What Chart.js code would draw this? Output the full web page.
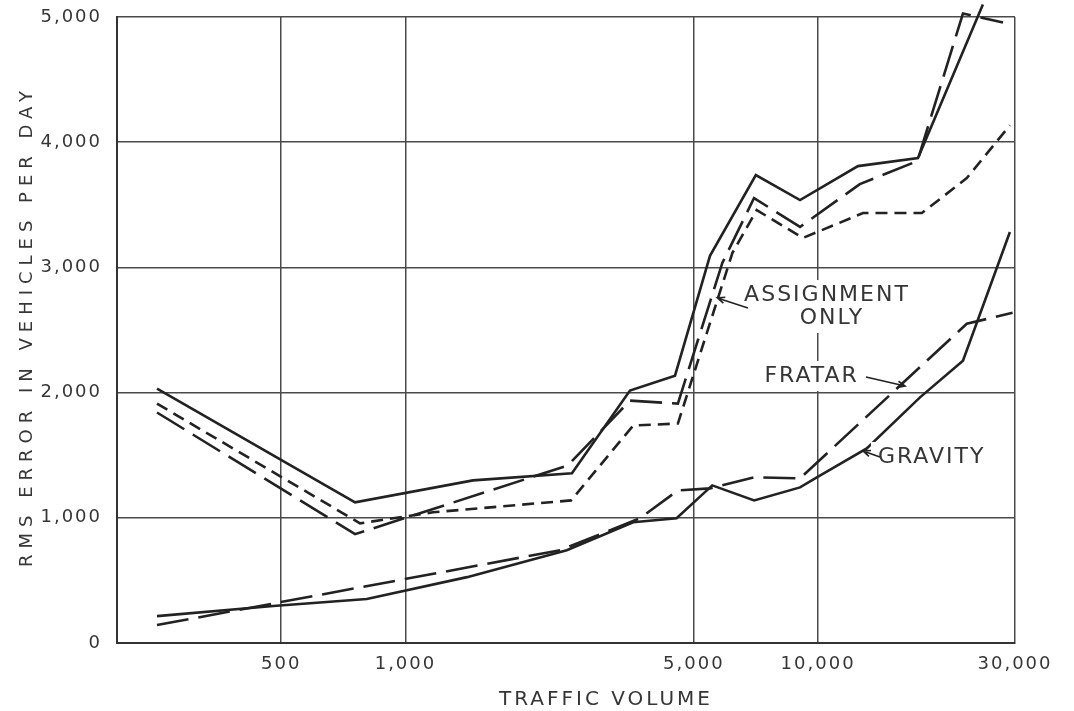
<!DOCTYPE html>
<html>
<head>
<meta charset="utf-8">
<title>RMS error vs traffic volume</title>
<script src="https://cdn.jsdelivr.net/npm/chart.js@4.4.1/dist/chart.umd.min.js"></script>
<style>
  html, body { margin: 0; padding: 0; background: #fff; }
  #wrap { width: 1074px; height: 711px; position: relative; }
</style>
</head>
<body>
<div id="wrap"><canvas id="rmsChart"></canvas></div>
<script>
// ---------- tick labels
const volumeTicks = [500, 1000, 5000, 10000, 30000];
const errorTicks = [0, 1000, 2000, 3000, 4000, 5000];

// ---------- upper group
const upperSolidVol = [250, 755, 1458, 2532, 3500, 4500, 5470, 7065, 9040, 12490, 17460, 25080];
const upperSolidErr = [2032, 1124, 1299, 1355, 2016, 2135, 3092, 3737, 3538, 3809, 3873, 5100];

const upperDashVol = [250, 755, 2474, 3500, 4573, 5860, 6994, 9040, 12620, 17400, 22440, 28060];
const upperDashErr = [1841, 869, 1418, 1936, 1912, 3036, 3554, 3323, 3665, 3849, 5028, 4956];

const assignmentVol = [250, 776, 1166, 2520, 3563, 4573, 6200, 7100, 9180, 12850, 17840, 22920, 29160];
const assignmentErr = [1912, 956, 1044, 1139, 1737, 1753, 3116, 3458, 3235, 3434, 3434, 3713, 4135];

// ---------- lower group
const fratarVol = [250, 2370, 3700, 4573, 5470, 7000, 9040, 22920, 29600];
const fratarErr = [143, 741, 996, 1219, 1235, 1323, 1315, 2550, 2637];

const gravityVol = [250, 478, 806, 1410, 2460, 3563, 4540, 5540, 7000, 9040, 9930, 13120, 17630, 22440, 29160];
const gravityErr = [215, 295, 351, 526, 741, 964, 996, 1259, 1139, 1243, 1323, 1554, 1960, 2255, 3283];

// ---------- callout labels, in data units
const noteText = ['ASSIGNMENT', 'ONLY', 'FRATAR', 'GRAVITY'];
const noteVol = [10450, 10740, 9590, 18740];
const noteErr = [2780, 2596, 2133, 1486];
// arrows: tail -> head
const arrowTailVol = [6760, 13060, 14120];
const arrowTailErr = [2676, 2125, 1486];
const arrowHeadVol = [5700, 16240, 12850];
const arrowHeadErr = [2756, 2053, 1534];

const INK = '#222';
const TEXT = '#363636';
const FONT = '"DejaVu Sans", "Liberation Sans", sans-serif';

function pairs(xs, ys){ return xs.map((x, i) => ({ x: x, y: ys[i] })); }

function lineSet(label, xs, ys, dash){
  return {
    label: label,
    data: pairs(xs, ys),
    borderColor: INK,
    borderWidth: 2.6,
    borderDash: dash,
    pointRadius: 0,
    tension: 0,
    fill: false,
    clip: false
  };
}

const fmt = v => Number(v).toLocaleString('en-US');

// titles + callouts drawn on the canvas
const inkPlugin = {
  id: 'ink',
  beforeDraw(chart){
    chart.ctx.letterSpacing = '2px';
  },
  afterDatasetsDraw(chart){
    const ctx = chart.ctx, sx = chart.scales.x, sy = chart.scales.y;
    ctx.save();
    ctx.font = '22px ' + FONT;
    ctx.letterSpacing = '2px';
    ctx.textAlign = 'center';
    ctx.textBaseline = 'middle';
    // white boxes hide the grid behind the words
    noteText.forEach((t, i) => {
      const px = sx.getPixelForValue(noteVol[i]), py = sy.getPixelForValue(noteErr[i]);
      const w = ctx.measureText(t).width;
      ctx.fillStyle = '#fff';
      ctx.fillRect(px - w / 2 - 6, py - 15, w + 12, 30);
    });
    ctx.fillStyle = TEXT;
    noteText.forEach((t, i) => {
      ctx.fillText(t, sx.getPixelForValue(noteVol[i]) + 1, sy.getPixelForValue(noteErr[i]));
    });
    // arrows
    ctx.strokeStyle = INK;
    ctx.lineWidth = 1.6;
    arrowTailVol.forEach((v, i) => {
      const x0 = sx.getPixelForValue(v), y0 = sy.getPixelForValue(arrowTailErr[i]);
      const x1 = sx.getPixelForValue(arrowHeadVol[i]), y1 = sy.getPixelForValue(arrowHeadErr[i]);
      const a = Math.atan2(y1 - y0, x1 - x0);
      ctx.beginPath();
      ctx.moveTo(x0, y0); ctx.lineTo(x1, y1);
      ctx.moveTo(x1 - 8 * Math.cos(a - 0.4), y1 - 8 * Math.sin(a - 0.4));
      ctx.lineTo(x1, y1);
      ctx.lineTo(x1 - 8 * Math.cos(a + 0.4), y1 - 8 * Math.sin(a + 0.4));
      ctx.stroke();
    });
    ctx.restore();
  },
  afterDraw(chart){
    const ctx = chart.ctx;
    ctx.save();
    ctx.fillStyle = TEXT;
    ctx.textAlign = 'center';
    ctx.textBaseline = 'middle';
    // x title
    ctx.font = '20px ' + FONT;
    ctx.letterSpacing = '3px';
    ctx.fillText('TRAFFIC VOLUME', 606, 700);
    // y title
    ctx.font = '18px ' + FONT;
    ctx.letterSpacing = '6px';
    ctx.translate(27, 326);
    ctx.rotate(-Math.PI / 2);
    ctx.fillText('RMS ERROR IN VEHICLES PER DAY', 0, 0);
    ctx.restore();
    ctx.letterSpacing = '0px';
  }
};

const chart = new Chart(document.getElementById('rmsChart').getContext('2d'), {
  type: 'line',
  data: {
    datasets: [
      lineSet('Upper solid', upperSolidVol, upperSolidErr, []),
      lineSet('Upper long dash', upperDashVol, upperDashErr, [32, 10]),
      lineSet('Assignment only', assignmentVol, assignmentErr, [12, 7]),
      lineSet('Fratar', fratarVol, fratarErr, [32, 10]),
      lineSet('Gravity', gravityVol, gravityErr, [])
    ]
  },
  options: {
    responsive: true,
    maintainAspectRatio: false,
    animation: false,
    layout: { padding: { top: 17, right: 59, left: 0, bottom: 0 } },
    plugins: { legend: { display: false }, tooltip: { enabled: false } },
    scales: {
      x: {
        type: 'logarithmic',
        min: 200,
        max: 30000,
        afterBuildTicks: s => { s.ticks = volumeTicks.map(v => ({ value: v })); },
        afterFit: s => { s.height = 68; s.paddingLeft = 0; s.paddingRight = 0; },
        ticks: {
          callback: fmt,
          autoSkip: false,
          maxRotation: 0,
          padding: 11,
          color: TEXT,
          font: { family: FONT, size: 18 }
        },
        grid: { color: '#4a4a4a', lineWidth: 1.5, drawTicks: false },
        border: { display: true, color: '#333', width: 2 }
      },
      y: {
        min: 0,
        max: 5000,
        afterBuildTicks: s => { s.ticks = errorTicks.map(v => ({ value: v })); },
        afterFit: s => { s.width = 117; s.paddingTop = 0; s.paddingBottom = 0; },
        ticks: {
          callback: fmt,
          padding: 15,
          color: TEXT,
          font: { family: FONT, size: 18 }
        },
        grid: { color: '#4a4a4a', lineWidth: 1.5, drawTicks: false },
        border: { display: true, color: '#333', width: 2 }
      }
    }
  },
  plugins: [inkPlugin]
});
</script>
</body>
</html>
